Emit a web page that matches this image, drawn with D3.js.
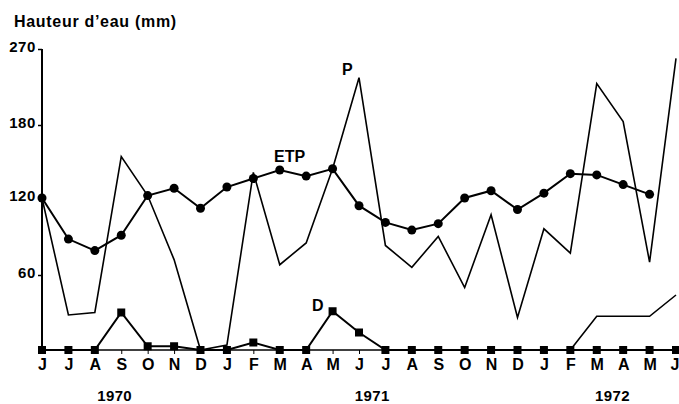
<!DOCTYPE html>
<html>
<head>
<meta charset="utf-8">
<script src="https://cdn.jsdelivr.net/npm/d3@7"></script>
<style>
  body { margin: 0; background: #fff; }
  text { font-family: "Liberation Sans", Arial, sans-serif; font-weight: bold; fill: #000; }
</style>
</head>
<body>
<div id="chart"></div>
<script>
// month letters, June 1970 -> June 1972
var months = ["J","J","A","S","O","N","D","J","F","M","A","M","J","J","A","S","O","N","D","J","F","M","A","M","J"];
var years = ["1970", "1971", "1972"];
var yTicks = [60, 120, 180, 270];

// P : rainfall (mm)
var pValues = [120, 28, 30, 154, 122, 72, 0, 4, 141, 68, 85, 144, 236, 83, 66, 90, 50, 107, 26, 96, 77, 229, 184, 70, 259];
// ETP : potential evapotranspiration (mm), stops in May 1972
var etpValues = [120, 88, 79, 91, 122, 128, 112, 129, 136, 143, 138, 144, 114, 101, 95, 100, 120, 126, 111, 124, 140, 139, 131, 123];
// D : drainage (mm)
var dValues = [0, 0, 0, 30, 3, 3, 0, 0, 6, 0, 0, 31, 14, 0, 0, 0, 0, 0, 0, 0, 0, 0, 0, 0, 0];
// unmarked line rising in 1972 (from Feb 1972)
var riseStart = 20;
var riseValues = [0, 27, 27, 27, 44];

var svgWidth = 679;
var svgHeight = 404;

var svg = d3.select("#chart")
  .append("svg")
  .attr("width", svgWidth)
  .attr("height", svgHeight);

// x: one step per month
var xScale = d3.scaleLinear()
  .domain([0, months.length - 1])
  .range([42, 676]);

// y axis of the original is not evenly spaced above 180
var yScale = d3.scaleLinear()
  .domain([0, 60, 120, 180, 270])
  .range([350, 275, 198, 125, 49]);

// title
svg.append("text")
  .attr("x", 14)
  .attr("y", 27)
  .style("font-size", "16px")
  .style("letter-spacing", "0.7px")
  .text("Hauteur d\u2019eau (mm)");

// y axis
var yAxis = d3.axisLeft(yScale)
  .tickValues(yTicks)
  .tickSize(4)
  .tickPadding(2)
  .tickFormat(d3.format("d"));

var yAxisG = svg.append("g")
  .attr("transform", "translate(42,0)")
  .call(yAxis);
yAxisG.select(".domain").attr("d", "M0," + yScale(270) + "V" + yScale(0)).attr("stroke", "#000").attr("stroke-width", 2);
yAxisG.selectAll(".tick line").attr("stroke", "#000").attr("stroke-width", 1.5);
yAxisG.selectAll(".tick text")
  .attr("dy", null)
  .attr("y", 2)
  .style("font-size", "15px")
  .style("letter-spacing", "0.6px")
  .style("font-family", "'Liberation Sans', Arial, sans-serif");

// x axis
var xAxis = d3.axisBottom(xScale)
  .tickValues(d3.range(months.length))
  .tickSize(4)
  .tickPadding(6)
  .tickFormat(function(i) { return months[i]; });

var xAxisG = svg.append("g")
  .attr("transform", "translate(0,350)")
  .call(xAxis);
xAxisG.select(".domain").attr("d", "M42,0H679").attr("stroke", "#000").attr("stroke-width", 1.5);
xAxisG.selectAll(".tick line").attr("stroke", "#000").attr("stroke-width", 1);
xAxisG.selectAll(".tick text")
  .attr("dy", null)
  .attr("y", 20)
  .style("font-size", "16px")
  .style("font-family", "'Liberation Sans', Arial, sans-serif");
// last letter sits on the right edge
xAxisG.selectAll(".tick text")
  .filter(function(i) { return i === months.length - 1; })
  .attr("text-anchor", "end")
  .attr("x", 3);

// years under the month letters
var yearAt = [2.75, 12.5, 21.6];
svg.selectAll(".year")
  .data(years)
  .enter()
  .append("text")
  .attr("class", "year")
  .attr("x", function(d, i) { return xScale(yearAt[i]); })
  .attr("y", 401)
  .attr("text-anchor", "middle")
  .style("font-size", "15px")
  .style("letter-spacing", "0.4px")
  .text(function(d) { return d; });

var line = d3.line()
  .x(function(d) { return xScale(d.i); })
  .y(function(d) { return yScale(d.v); });

function toPoints(values, start) {
  return values.map(function(v, k) { return { i: k + (start || 0), v: v }; });
}

var pData = toPoints(pValues);
var etpData = toPoints(etpValues);
var dData = toPoints(dValues);
var riseData = toPoints(riseValues, riseStart);

// P line
svg.append("path")
  .datum(pData)
  .attr("d", line)
  .attr("fill", "none")
  .attr("stroke", "#000")
  .attr("stroke-width", 1.6)
  .attr("stroke-linejoin", "miter");

// 1972 rising line
svg.append("path")
  .datum(riseData)
  .attr("d", line)
  .attr("fill", "none")
  .attr("stroke", "#000")
  .attr("stroke-width", 1.6);

// D line + squares
svg.append("path")
  .datum(dData)
  .attr("d", line)
  .attr("fill", "none")
  .attr("stroke", "#000")
  .attr("stroke-width", 2);

svg.selectAll(".dsq")
  .data(dData)
  .enter()
  .append("rect")
  .attr("class", "dsq")
  .attr("x", function(d) { return xScale(d.i) - 4; })
  .attr("y", function(d) { return yScale(d.v) - 4; })
  .attr("width", 8)
  .attr("height", 8)
  .attr("fill", "#000");

// ETP line + dots
svg.append("path")
  .datum(etpData)
  .attr("d", line)
  .attr("fill", "none")
  .attr("stroke", "#000")
  .attr("stroke-width", 2);

svg.selectAll(".etpdot")
  .data(etpData)
  .enter()
  .append("circle")
  .attr("class", "etpdot")
  .attr("cx", function(d) { return xScale(d.i); })
  .attr("cy", function(d) { return yScale(d.v); })
  .attr("r", 4.5)
  .attr("fill", "#000");

// series labels
svg.append("text").attr("x", 342).attr("y", 75).style("font-size", "16px").text("P");
svg.append("text").attr("x", 274).attr("y", 162).style("font-size", "16px").text("ETP");
svg.append("text").attr("x", 312).attr("y", 311).style("font-size", "16px").text("D");
</script>
</body>
</html>
